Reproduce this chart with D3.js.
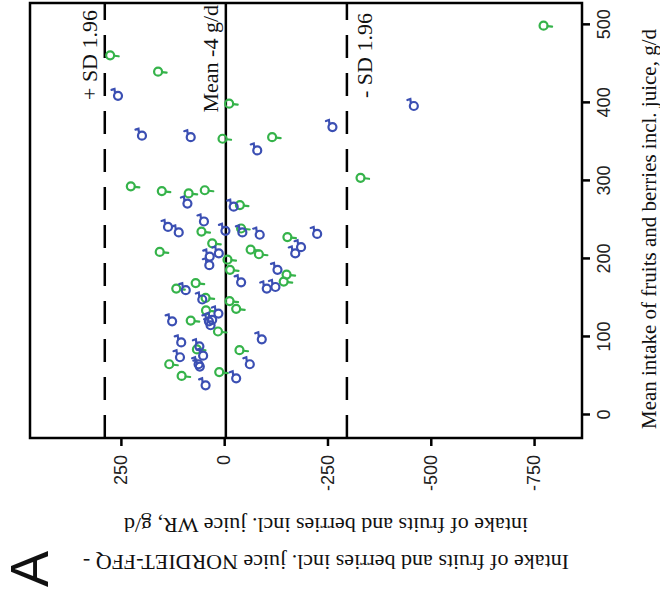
<!DOCTYPE html>
<html>
<head>
<meta charset="utf-8">
<script src="https://cdn.jsdelivr.net/npm/d3@7"></script>
<style>
  body { margin: 0; background: #fff; }
</style>
</head>
<body>
<div id="chart"></div>
<script>
// Bland-Altman values: [mean intake g/d, difference FFQ - WR g/d]
const xTicks = [0, 100, 200, 300, 400, 500];
const yTicks = [250, 0, -250, -500, -750];
const meanDiff = -4;
const upperLimit = 289;
const lowerLimit = -297;

const greenPoints = [
  [461, 276], [440, 160], [399, -12], [354, 4], [356, -116], [293, 226],
  [287, 151], [284, 86], [288, 47], [269, -38], [235, 55], [239, -41],
  [228, -153], [212, -64], [206, -84], [220, 29], [199, -8], [209, 156],
  [186, -14], [180, -151], [171, -144], [169, 69], [162, 116], [150, 45],
  [146, -13], [136, -29], [134, 44], [121, 81], [107, 15], [84, 66],
  [83, -37], [65, 133], [50, 103], [55, 12], [304, -330], [499, -773]
];

const bluePoints = [
  [409, 257], [358, 199], [356, 81], [339, -80], [369, -262], [271, 89],
  [267, -23], [241, 136], [234, 110], [248, 49], [236, -3], [234, -44],
  [231, -86], [232, -225], [215, -186], [207, -172], [207, 13], [203, 35],
  [192, 36], [186, -129], [170, -41], [162, -103], [164, -124], [160, 93],
  [148, 53], [130, 14], [120, 126], [120, 37], [115, 33], [122, 29],
  [97, -91], [93, 104], [88, 60], [74, 107], [76, 51], [65, 62],
  [62, 59], [65, -62], [47, -29], [38, 45], [396, -459]
];

const green = '#35b34a';
const blue = '#3b4fb3';

const svg = d3.select('#chart').append('svg')
  .attr('width', 660)
  .attr('height', 595);

// the figure is printed turned a quarter to the left, so draw it upright and rotate
const g = svg.append('g')
  .attr('transform', 'translate(0,595) rotate(-90)');

const x = d3.scaleLinear().domain([-29.5, 528]).range([157, 592]);
const y = d3.scaleLinear().domain([-866, 470]).range([582, 30]);

// axes
const xAxis = g.append('g')
  .attr('transform', `translate(0,${y.range()[0]})`)
  .call(d3.axisBottom(x).tickValues(xTicks).tickSize(8).tickPadding(7));

const yAxis = g.append('g')
  .attr('transform', `translate(${x.range()[0]},0)`)
  .call(d3.axisLeft(y).tickValues(yTicks).tickFormat(d => String(d)).tickSize(8).tickPadding(9));

[xAxis, yAxis].forEach(a => {
  a.select('.domain').remove();
  a.selectAll('.tick line').attr('stroke', '#000').attr('stroke-width', 2.5);
  a.selectAll('.tick text')
    .attr('fill', '#222')
    .style('font-family', '"Liberation Sans", Arial, sans-serif')
    .style('font-size', '18px');
});

// reference lines
g.append('line')
  .attr('x1', x.range()[0]).attr('x2', x.range()[1])
  .attr('y1', y(meanDiff)).attr('y2', y(meanDiff))
  .attr('stroke', '#000').attr('stroke-width', 2.5);

[upperLimit, lowerLimit].forEach(v => {
  g.append('line')
    .attr('x1', x.range()[0]).attr('x2', x.range()[1])
    .attr('y1', y(v)).attr('y2', y(v))
    .attr('stroke', '#000').attr('stroke-width', 2.5)
    .attr('stroke-dasharray', '23,15');
});

// points: open circles with a small tail, like the printed symbols
function drawPoints(data, color, tail) {
  const pt = g.append('g').selectAll('g')
    .data(data)
    .join('g')
    .attr('transform', d => `translate(${x(d[0])},${y(d[1])})`);
  pt.append('circle')
    .attr('r', 4)
    .attr('fill', 'none')
    .attr('stroke', color)
    .attr('stroke-width', 2.2);
  pt.append('path')
    .attr('d', tail)
    .attr('fill', 'none')
    .attr('stroke', color)
    .attr('stroke-width', 2.2)
    .attr('stroke-linecap', 'round');
}
drawPoints(greenPoints, green, 'M-0.5,4 L-1,8.5');
drawPoints(bluePoints, blue, 'M3,-3 L7,-3.5 L6,-6.5');

// frame
g.append('rect')
  .attr('x', x.range()[0]).attr('y', y.range()[1])
  .attr('width', x.range()[1] - x.range()[0])
  .attr('height', y.range()[0] - y.range()[1])
  .attr('fill', 'none')
  .attr('stroke', '#000')
  .attr('stroke-width', 2.5);

const serif = '"Liberation Serif", "Times New Roman", serif';

// line labels
const lineLabels = [
  { text: 'Mean -4 g/d', y: y(meanDiff) - 8, x: 590 },
  { text: '+ SD 1.96', y: y(upperLimit) - 8, x: 585 },
  { text: '- SD 1.96', y: y(lowerLimit) + 25, x: 582 }
];
g.selectAll('.line-label')
  .data(lineLabels)
  .join('text')
  .attr('class', 'line-label')
  .attr('x', d => d.x)
  .attr('y', d => d.y)
  .attr('text-anchor', 'end')
  .style('font-family', serif)
  .style('font-size', '22px')
  .attr('fill', '#111')
  .text(d => d.text);

// axis titles
g.append('text')
  .attr('x', 366)
  .attr('y', 656)
  .attr('text-anchor', 'middle')
  .style('font-family', serif)
  .style('font-size', '21px')
  .attr('fill', '#111')
  .text('Mean intake of fruits and berries incl. juice, g/d');

const yTitle = g.append('text')
  .attr('transform', 'translate(0,326) rotate(-90)')
  .attr('text-anchor', 'middle')
  .style('font-family', serif)
  .style('font-size', '22px')
  .attr('fill', '#111');
yTitle.append('tspan').attr('x', 0).attr('y', 40)
  .text('Intake of fruits and berries incl. juice NORDIET-FFQ -');
yTitle.append('tspan').attr('x', 0).attr('y', 77)
  .text('intake of fruits and berries incl. juice WR, g/d');

// panel letter
g.append('text')
  .attr('x', 8)
  .attr('y', 48)
  .style('font-family', '"Liberation Sans", Arial, sans-serif')
  .style('font-size', '54px')
  .attr('fill', '#111')
  .text('A');
</script>
</body>
</html>
